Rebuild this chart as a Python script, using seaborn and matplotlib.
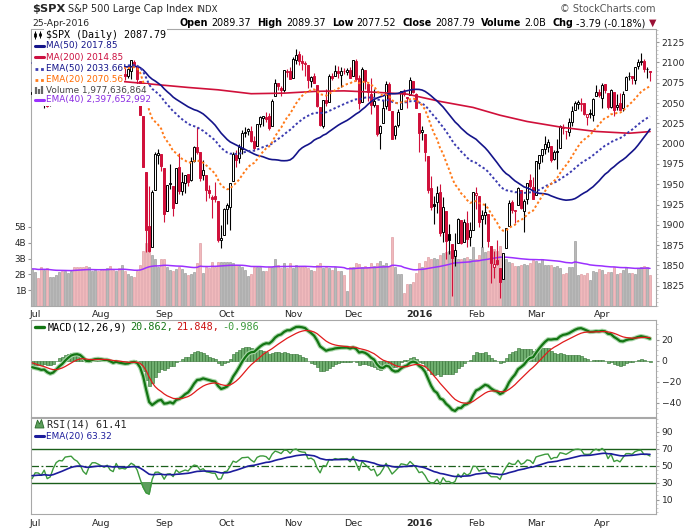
import numpy as np
import pandas as pd
import matplotlib
matplotlib.use("Agg")
import matplotlib.pyplot as plt
from matplotlib.lines import Line2D
from matplotlib.patches import Rectangle, Polygon
from matplotlib.ticker import MultipleLocator
import seaborn as sns

# June 2015 closes, only used to warm up the moving averages / MACD / RSI
hist_closes = [2111.73, 2109.60, 2114.07, 2095.84, 2092.83, 2079.28, 2080.15, 2105.20,
               2108.86, 2094.11, 2084.43, 2096.29, 2100.44, 2121.24, 2109.99, 2122.85,
               2124.20, 2108.58, 2102.31, 2101.49, 2057.64]

holidays = ['2015-07-03', '2015-09-07', '2015-11-26', '2015-12-25', '2016-01-01',
            '2016-01-18', '2016-02-15', '2016-03-25']

# daily candles 30-Jun-2015 .. 25-Apr-2016 (one line per month)
opens = [2061.2,
    2067.0, 2078.0, 2073.0, 2069.5, 2077.7, 2049.7, 2052.7, 2080.0, 2099.7, 2109.0, 2110.5, 2126.8, 2126.9, 2127.6, 2118.2, 2114.2, 2102.2, 2078.2, 2070.8, 2094.7, 2106.8, 2111.6,
    2104.5, 2097.7, 2095.3, 2100.1, 2082.6, 2080.1, 2102.7, 2081.1, 2086.2, 2083.2, 2089.7, 2101.1, 2095.7, 2076.6, 2034.1, 1965.2, 1898.1, 1872.8, 1942.8, 1986.1, 1986.7,
    1970.1, 1916.5, 1950.8, 1947.8, 1927.3, 1971.5, 1941.6, 1951.5, 1963.1, 1955.1, 1978.0, 1995.3, 1989.7, 1960.8, 1961.4, 1943.2, 1934.8, 1935.9, 1929.2, 1881.9, 1887.1,
    1919.7, 1921.8, 1954.3, 1986.6, 1982.3, 1994.0, 2013.7, 2015.7, 2015.0, 2003.7, 1996.5, 2024.4, 2031.7, 2033.1, 2033.5, 2021.9, 2058.2, 2075.1, 2068.8, 2066.5, 2088.4, 2090.0,
    2080.8, 2102.6, 2110.6, 2101.7, 2098.6, 2096.6, 2077.2, 2083.4, 2072.3, 2044.6, 2022.1, 2053.7, 2051.0, 2083.7, 2082.8, 2089.4, 2084.4, 2089.3, 2088.8, 2090.9,
    2082.9, 2101.7, 2080.7, 2051.2, 2090.4, 2073.4, 2061.2, 2047.9, 2047.3, 2013.4, 2025.6, 2046.5, 2073.8, 2040.8, 2010.3, 2023.2, 2042.2, 2063.5, 2057.8, 2060.5, 2077.3, 2060.6,
    2038.2, 2013.8, 2011.7, 1985.3, 1945.2, 1926.1, 1927.8, 1940.3, 1891.7, 1916.7, 1888.7, 1876.2, 1861.5, 1877.4, 1906.3, 1878.8, 1902.5, 1885.2, 1894.0,
    1936.9, 1935.3, 1907.1, 1911.7, 1913.1, 1873.3, 1848.5, 1857.1, 1847.0, 1833.4, 1871.4, 1898.8, 1927.6, 1916.7, 1924.4, 1942.4, 1917.6, 1931.9, 1954.9, 1947.1,
    1937.1, 1976.6, 1985.6, 1994.0, 1996.1, 1996.9, 1981.4, 1991.0, 1994.7, 2019.3, 2015.3, 2014.2, 2026.9, 2041.2, 2048.6, 2048.6, 2049.8, 2032.5, 2037.9, 2035.8, 2058.3, 2063.8,
    2056.6, 2073.2, 2062.5, 2045.6, 2063.0, 2045.5, 2050.2, 2043.7, 2065.9, 2082.9, 2083.0, 2078.8, 2096.1, 2101.0, 2102.1, 2091.5, 2089.4]
highs = [2074.3,
    2082.8, 2085.1, 2078.6, 2083.7, 2077.7, 2074.3, 2081.3, 2100.7, 2111.4, 2114.1, 2124.4, 2128.9, 2132.8, 2128.5, 2119.4, 2116.9, 2106.0, 2078.2, 2095.6, 2110.6, 2110.5, 2114.2,
    2105.7, 2102.5, 2112.7, 2103.3, 2082.6, 2105.4, 2102.7, 2089.1, 2092.9, 2092.5, 2102.9, 2103.5, 2096.2, 2076.6, 2034.1, 1965.2, 1948.0, 1943.1, 1989.6, 1993.5, 1986.7,
    1970.1, 1948.9, 1975.0, 1947.8, 1970.4, 1988.6, 1965.3, 1961.1, 1963.1, 1983.2, 1997.3, 2020.9, 1989.7, 1979.6, 1961.4, 1949.5, 1937.2, 1952.9, 1929.2, 1899.5, 1920.5,
    1927.2, 1951.4, 1989.2, 1991.6, 1999.3, 2016.5, 2020.1, 2018.7, 2022.3, 2009.6, 2024.2, 2033.5, 2034.5, 2039.1, 2037.9, 2055.2, 2079.7, 2075.1, 2070.4, 2090.4, 2092.5, 2094.3,
    2106.2, 2116.5, 2114.6, 2108.8, 2101.9, 2096.6, 2083.7, 2086.9, 2072.3, 2044.6, 2053.2, 2066.7, 2085.3, 2086.7, 2097.1, 2095.6, 2094.1, 2093.0, 2093.3, 2093.8,
    2103.4, 2104.3, 2085.0, 2093.8, 2090.4, 2073.9, 2080.3, 2067.7, 2047.3, 2022.9, 2053.9, 2076.7, 2076.4, 2040.8, 2022.9, 2042.7, 2064.7, 2067.4, 2057.8, 2081.6, 2077.3, 2062.5,
    2038.2, 2021.9, 2011.7, 1985.3, 1960.4, 1935.7, 1947.4, 1950.3, 1934.5, 1916.7, 1901.4, 1876.2, 1889.9, 1908.9, 1906.3, 1906.7, 1916.9, 1902.9, 1940.2,
    1947.2, 1935.3, 1918.0, 1927.4, 1913.1, 1873.3, 1868.3, 1881.6, 1847.0, 1864.8, 1895.8, 1930.7, 1930.0, 1918.8, 1946.7, 1942.4, 1932.1, 1951.8, 1962.9, 1958.3,
    1978.4, 1986.5, 1993.7, 2009.1, 2006.1, 1996.9, 1992.7, 2005.1, 2022.4, 2024.6, 2015.9, 2032.0, 2046.2, 2052.4, 2053.9, 2056.6, 2049.8, 2036.0, 2042.7, 2055.9, 2072.2, 2067.9,
    2075.1, 2074.0, 2062.5, 2067.3, 2063.0, 2060.6, 2062.9, 2065.1, 2083.2, 2087.8, 2083.2, 2094.7, 2104.4, 2111.1, 2103.8, 2094.3, 2089.4]
lows = [2056.3,
    2067.0, 2071.0, 2058.4, 2044.0, 2044.7, 2046.7, 2052.7, 2080.0, 2099.7, 2102.5, 2110.5, 2119.9, 2123.7, 2115.4, 2110.2, 2098.6, 2077.1, 2063.5, 2069.1, 2094.1, 2094.1, 2102.1,
    2087.3, 2085.4, 2095.3, 2075.5, 2067.9, 2080.1, 2076.5, 2052.1, 2078.3, 2080.6, 2079.3, 2094.1, 2070.5, 2035.7, 1970.9, 1867.0, 1867.1, 1872.8, 1942.8, 1975.2, 1966.0,
    1903.1, 1916.5, 1944.7, 1911.2, 1927.3, 1937.9, 1937.2, 1939.2, 1948.3, 1954.3, 1977.9, 1986.7, 1953.5, 1955.8, 1929.2, 1932.6, 1908.9, 1928.0, 1879.2, 1871.9, 1887.1,
    1900.7, 1893.7, 1954.3, 1971.2, 1976.4, 1987.5, 2007.6, 2010.3, 2001.8, 1990.7, 1996.5, 2020.5, 2022.3, 2026.6, 2017.2, 2021.9, 2058.2, 2066.5, 2059.0, 2063.1, 2082.6, 2079.3,
    2080.8, 2097.5, 2096.9, 2090.4, 2083.7, 2068.2, 2069.9, 2074.9, 2045.7, 2022.0, 2019.4, 2045.9, 2051.0, 2078.8, 2082.8, 2081.4, 2070.3, 2086.3, 2084.1, 2080.4,
    2082.9, 2077.1, 2042.4, 2051.2, 2066.8, 2052.3, 2036.5, 2045.7, 2008.8, 1993.3, 2025.6, 2042.4, 2041.7, 2005.3, 2005.9, 2020.5, 2042.2, 2058.7, 2044.2, 2060.5, 2061.9, 2043.6,
    1989.7, 2005.0, 1979.1, 1938.8, 1918.5, 1901.1, 1914.4, 1886.5, 1878.9, 1857.8, 1864.6, 1812.3, 1848.9, 1877.4, 1875.9, 1878.8, 1872.7, 1873.7, 1894.0,
    1920.0, 1897.3, 1872.7, 1900.5, 1872.7, 1828.5, 1834.9, 1850.3, 1810.1, 1833.4, 1871.4, 1898.8, 1915.1, 1902.2, 1924.4, 1919.4, 1891.0, 1925.4, 1945.8, 1931.8,
    1937.1, 1968.8, 1977.4, 1986.8, 1989.4, 1977.4, 1979.8, 1969.2, 1994.7, 2012.1, 2005.2, 2010.0, 2022.2, 2041.2, 2043.1, 2040.6, 2034.9, 2022.5, 2031.9, 2028.3, 2058.3, 2057.5,
    2043.9, 2062.6, 2042.6, 2043.8, 2033.8, 2041.7, 2041.9, 2039.7, 2065.9, 2078.1, 2073.7, 2073.3, 2091.7, 2096.3, 2088.5, 2081.2, 2077.5]
closes = [2063.11,
    2077.42, 2076.78, 2068.76, 2081.34, 2046.68, 2051.31, 2076.62, 2099.60, 2108.95, 2107.40, 2124.29, 2126.64, 2128.28, 2119.21, 2114.15, 2102.15, 2079.65, 2067.64, 2093.25, 2108.57, 2108.63, 2103.84,
    2098.04, 2093.32, 2099.84, 2083.56, 2077.57, 2104.18, 2084.07, 2086.05, 2083.39, 2091.54, 2102.44, 2096.92, 2079.61, 2035.73, 1970.89, 1893.21, 1867.61, 1940.51, 1987.66, 1988.87, 1972.18,
    1913.85, 1948.86, 1951.13, 1921.22, 1969.41, 1942.04, 1952.29, 1961.05, 1953.03, 1978.09, 1995.31, 1990.20, 1958.03, 1966.97, 1942.74, 1938.76, 1932.24, 1931.34, 1881.77, 1884.09, 1920.03,
    1923.82, 1951.36, 1987.05, 1979.92, 1995.83, 2013.43, 2014.89, 2017.46, 2003.69, 1994.24, 2023.86, 2033.11, 2033.66, 2030.77, 2018.94, 2052.51, 2075.15, 2071.18, 2065.89, 2090.35, 2089.41, 2079.36,
    2104.05, 2109.79, 2102.31, 2099.93, 2099.20, 2078.58, 2081.72, 2075.00, 2045.97, 2023.04, 2053.19, 2050.44, 2083.58, 2081.24, 2089.17, 2086.59, 2089.14, 2088.87, 2090.11, 2080.41,
    2102.63, 2079.51, 2049.62, 2091.69, 2077.07, 2063.59, 2047.62, 2052.23, 2012.37, 2021.94, 2043.41, 2073.07, 2041.89, 2005.55, 2021.15, 2038.97, 2064.29, 2060.99, 2056.50, 2078.36, 2063.36, 2043.94,
    2012.66, 2016.71, 1990.26, 1943.09, 1922.03, 1923.67, 1938.68, 1890.28, 1921.84, 1880.33, 1881.33, 1859.33, 1868.99, 1906.90, 1877.08, 1903.63, 1882.95, 1893.36, 1940.24,
    1939.38, 1903.03, 1912.53, 1915.45, 1880.05, 1853.44, 1852.21, 1851.86, 1829.08, 1864.78, 1895.58, 1926.82, 1917.83, 1917.78, 1945.50, 1921.27, 1929.80, 1951.70, 1948.05, 1932.23,
    1978.35, 1986.45, 1993.40, 1999.99, 2001.76, 1979.26, 1989.26, 1989.57, 2022.19, 2019.64, 2015.93, 2027.22, 2040.59, 2049.58, 2051.60, 2049.80, 2036.71, 2035.94, 2037.05, 2055.01, 2063.95, 2059.74,
    2072.78, 2066.13, 2045.17, 2066.66, 2041.91, 2047.60, 2041.99, 2061.72, 2082.42, 2082.78, 2080.73, 2094.34, 2100.80, 2102.40, 2091.48, 2091.58, 2087.79]
# volume, billions of shares
volumes = [2.35,
    2.17, 1.75, 2.50, 2.25, 2.40, 1.85, 1.85, 1.95, 2.15, 2.20, 2.20, 2.10, 2.20, 2.50, 2.50, 2.50, 2.50, 2.55, 2.45, 2.20, 2.25, 2.20,
    2.30, 2.35, 2.40, 2.55, 2.30, 2.20, 2.40, 2.60, 2.20, 2.00, 1.90, 1.85, 2.20, 2.60, 3.50, 4.00, 3.70, 3.25, 2.95, 2.50, 2.95,
    2.95, 2.50, 2.25, 2.20, 2.35, 2.45, 2.35, 2.10, 1.95, 2.00, 2.15, 2.70, 4.00, 2.10, 2.50, 2.40, 2.80, 2.50, 2.80, 2.80, 2.80,
    2.80, 2.80, 2.70, 2.60, 2.55, 2.50, 2.25, 1.90, 2.00, 2.45, 2.50, 2.45, 2.20, 2.20, 2.50, 2.50, 2.95, 2.60, 2.40, 2.70, 2.40, 2.70,
    2.40, 2.60, 2.50, 2.55, 2.50, 2.40, 2.30, 2.20, 2.60, 2.70, 2.40, 2.50, 2.40, 2.30, 2.45, 2.20, 2.20, 1.95, 0.95, 2.50,
    2.45, 2.75, 2.65, 2.50, 2.55, 2.50, 2.70, 2.55, 2.70, 2.85, 2.60, 2.70, 2.55, 4.35, 2.50, 2.05, 2.00, 0.80, 1.40, 1.40, 1.50, 2.10,
    2.75, 2.50, 2.85, 3.10, 3.00, 3.05, 3.00, 3.20, 3.35, 3.40, 3.45, 3.85, 3.40, 3.00, 3.00, 3.05, 3.10, 3.00, 3.75,
    3.00, 3.20, 3.75, 3.40, 3.50, 3.80, 3.60, 3.50, 3.80, 3.20, 3.00, 2.80, 2.70, 2.55, 2.55, 2.60, 2.65, 2.60, 2.70, 2.90,
    2.85, 2.75, 3.00, 2.60, 2.60, 2.60, 2.45, 2.55, 2.40, 2.00, 2.10, 2.45, 2.45, 4.10, 1.95, 2.05, 1.95, 2.10, 1.65, 2.20, 2.15, 2.35,
    2.25, 2.00, 2.15, 2.15, 2.45, 2.05, 2.10, 2.30, 2.45, 2.10, 2.10, 2.05, 2.40, 2.50, 2.55, 2.50, 1.98]

# 200-day MA (needs history the chart does not show)
ma200_dates = ['2015-07-01', '2015-08-12', '2015-09-14', '2015-09-28', '2015-10-13', '2015-10-28',
               '2015-11-12', '2015-11-25', '2015-12-10', '2015-12-28', '2016-01-13', '2016-01-29',
               '2016-02-11', '2016-02-25', '2016-03-14', '2016-03-30', '2016-04-14', '2016-04-25']
ma200_vals = [2078.0, 2076.6, 2069.2, 2066.3, 2061.5, 2062.2, 2064.5, 2065.0, 2063.4, 2061.0,
              2052.0, 2044.6, 2035.0, 2027.3, 2019.9, 2015.0, 2012.8, 2014.85]

# ---------------------------------------------------------------------------
days = pd.bdate_range('2015-06-30', '2016-04-25')
days = days[~days.isin(pd.to_datetime(holidays))]
n = len(days)
assert n == len(opens) == len(highs) == len(lows) == len(closes) == len(volumes)
x = np.arange(n)

o = np.array(opens); h = np.array(highs); l = np.array(lows); c = np.array(closes)
vol = np.array(volumes) * 1e9

allc = pd.Series(hist_closes + closes)
nh = len(hist_closes)
ma50 = allc.rolling(50, min_periods=1).mean().values[nh:]
ema50 = allc.ewm(span=50, adjust=False).mean().values[nh:]
ema20 = allc.ewm(span=20, adjust=False).mean().values[nh:]
macd_full = allc.ewm(span=12, adjust=False).mean() - allc.ewm(span=26, adjust=False).mean()
sig_full = macd_full.ewm(span=9, adjust=False).mean()
macd = macd_full.values[nh:]
signal = sig_full.values[nh:]
hist = macd - signal
d = allc.diff().fillna(0)
ag = d.clip(lower=0).ewm(alpha=1 / 14, adjust=False).mean()
al = (-d.clip(upper=0)).ewm(alpha=1 / 14, adjust=False).mean()
rsi_full = 100 - 100 / (1 + ag / al)
rsi = rsi_full.values[nh:]
rsi_ema = rsi_full.ewm(span=20, adjust=False).mean().values[nh:]
vol_ema = pd.Series(vol).ewm(span=40, adjust=False).mean().values

prev = np.r_[hist_closes[-1], c[:-1]]
is_up = c >= prev
RED = '#d0103a'
cand_col = np.where(is_up, 'black', RED).tolist()
cand_face = np.where(c < o, np.where(is_up, 'black', RED), 'white').tolist()
vface = np.where(is_up, '#b9b9b9', '#f0b9bc').tolist()
vedge = np.where(is_up, '#8e8e8e', '#d98f96').tolist()

mon = days.to_period('M')
first = np.r_[False, np.asarray(mon[1:] != mon[:-1])]
month_pos = x[first]
month_lab = ['2016' if dd.month == 1 else dd.strftime('%b') for dd in days[first]]
ma200_x = days.get_indexer(pd.to_datetime(ma200_dates))

# ---------------------------------------------------------------------------
sns.set_style("white")
plt.rcParams['font.family'] = ['DejaVu Sans']
plt.rcParams['text.parse_math'] = False

W, H = 700, 530
fig = plt.figure(figsize=(7, 5.3), dpi=100)


def box(left, top, right, bottom):
    return [left / W, 1 - bottom / H, (right - left) / W, (bottom - top) / H]


def fx(px):
    return px / W


def fy(py):
    return 1 - py / H


ax = fig.add_axes(box(31, 29.5, 656, 306))
ax_v = ax.twinx()
ax_m = fig.add_axes(box(31, 320, 656, 416.5))
ax_r = fig.add_axes(box(31, 417.5, 656, 514))
XL = (-0.4, 208)

# volume (behind the candles)
ax_v.bar(x, vol, width=0.8, color=vface, edgecolor=vedge, linewidth=0.4)
sns.lineplot(x=x, y=vol_ema, ax=ax_v, color='#9b30ff', linewidth=1.1)
ax_v.set_ylim(0, 17.5e9)
ax_v.yaxis.set_ticks_position('left')
ax_v.set_yticks([1e9, 2e9, 3e9, 4e9, 5e9])
ax_v.set_yticklabels(['1B', '2B', '3B', '4B', '5B'])
ax_v.tick_params(axis='y', labelsize=6.3, length=2, pad=1.5, color='#999999')
ax_v.set_ylabel('')
for s in ax_v.spines.values():
    s.set_visible(False)
ax.set_zorder(ax_v.get_zorder() + 1)
ax.patch.set_visible(False)

# candles
ax.vlines(x, l, h, colors=cand_col, linewidth=0.8, zorder=3)
ax.bar(x, np.maximum(np.abs(c - o), 0.8), bottom=np.minimum(o, c), width=0.62,
       color=cand_face, edgecolor=cand_col, linewidth=0.7, zorder=4)

sns.lineplot(x=ma200_x, y=ma200_vals, ax=ax, color='#d0103a', linewidth=1.2, zorder=5)
sns.lineplot(x=x, y=ma50, ax=ax, color='#14148a', linewidth=1.2, zorder=5)
sns.lineplot(x=x, y=ema50, ax=ax, color='#3b3bb0', linewidth=1.4, linestyle=(0, (1.2, 1.2)), zorder=5)
sns.lineplot(x=x, y=ema20, ax=ax, color='#ff7a1a', linewidth=1.4, linestyle=(0, (1.2, 1.2)), zorder=5)

ax.set_xlim(*XL)
ax.set_ylim(1800, 2140.6)
ax.yaxis.tick_right()
ax.set_yticks(np.arange(1825, 2126, 25))
ax.tick_params(axis='y', labelsize=6.6, length=2, pad=2, color='#999999')
ax.set_xticks(month_pos)
ax.set_xticklabels(month_lab)
ax.tick_params(axis='x', labelsize=6.8, length=2.5, pad=0.6, color='#999999')

# MACD
ax_m.bar(x, hist, width=1.0, color='#6fae6f', edgecolor='#2f6f2f', linewidth=0.4, zorder=2)
sns.lineplot(x=x, y=macd, ax=ax_m, color='#a9d6a9', linewidth=3.2, zorder=3)
sns.lineplot(x=x, y=macd, ax=ax_m, color='#137513', linewidth=1.6, zorder=4)
sns.lineplot(x=x, y=signal, ax=ax_m, color='#e01b1b', linewidth=0.9, zorder=5)
ax_m.set_xlim(*XL)
ax_m.set_ylim(-52.9, 38.6)
ax_m.yaxis.tick_right()
ax_m.set_yticks([-40, -20, 0, 20])
ax_m.tick_params(axis='y', labelsize=6.6, length=2, pad=2, color='#999999')
ax_m.set_xticks(month_pos)
ax_m.tick_params(axis='x', labelbottom=False, length=2, color='#999999')

# RSI
ax_r.axhline(70, color='#1a5e1a', linewidth=1.0, zorder=2)
ax_r.axhline(30, color='#1a5e1a', linewidth=1.0, zorder=2)
ax_r.axhline(50, color='#1a5e1a', linewidth=0.9, linestyle=(0, (6, 2, 1.5, 2)), zorder=2)
ax_r.fill_between(x, rsi, 30, where=rsi < 30, interpolate=True, color='#5c9e5c', zorder=3)
ax_r.fill_between(x, rsi, 70, where=rsi > 70, interpolate=True, color='#5c9e5c', zorder=3)
sns.lineplot(x=x, y=rsi, ax=ax_r, color='#3c9a3c', linewidth=1.0, zorder=4)
sns.lineplot(x=x, y=rsi_ema, ax=ax_r, color='#1c1c9c', linewidth=1.2, zorder=5)
ax_r.set_xlim(*XL)
ax_r.set_ylim(-6.8, 106.7)
ax_r.yaxis.tick_right()
ax_r.set_yticks([10, 30, 50, 70, 90])
ax_r.tick_params(axis='y', labelsize=6.6, length=2, pad=2, color='#999999')
ax_r.set_xticks(month_pos)
ax_r.set_xticklabels(month_lab)
ax_r.tick_params(axis='x', labelsize=6.8, length=2.5, pad=1.0, color='#999999')

for a in (ax, ax_m, ax_r):
    a.set_xlabel(''); a.set_ylabel('')
    for s in a.spines.values():
        s.set_color('#a8a8a8'); s.set_linewidth(0.8)
    for t in a.get_xticklabels():
        if t.get_text() == '2016':
            t.set_fontweight('bold')
    a.xaxis.set_minor_locator(MultipleLocator(1))
    a.tick_params(axis='x', which='minor', length=1.2, width=0.5, color='#bbbbbb')
    a.yaxis.set_minor_locator(MultipleLocator(5))
    a.tick_params(axis='y', which='minor', length=1.2, width=0.5, color='#bbbbbb')

# ---------------------------------------------------------------------------
renderer = fig.canvas.get_renderer()
MONO = 'DejaVu Sans Mono'


def text_row(parts, x_left, y, size, x_right=None, family='DejaVu Sans'):
    """parts: (text, color, weight, spaces_before)"""
    objs, gaps = [], []
    for s, col, wt, sp in parts:
        objs.append(fig.text(0, fy(y), s, fontsize=size, color=col, fontweight=wt,
                             va='center', ha='left', family=family, zorder=8))
        gaps.append(sp)
    widths = [t.get_window_extent(renderer).width for t in objs]
    space = 0.32 * size * 100 / 72
    total = sum(widths) + space * sum(gaps)
    scale = 1.0
    if x_right is not None:
        scale = (x_right - x_left) / total
        for t in objs:
            t.set_fontsize(size * scale)
    xx = x_left
    for t, w, g in zip(objs, widths, gaps):
        xx += g * space * scale
        t.set_x(fx(xx))
        xx += w * scale
    return objs


# header
fig.text(fx(32), fy(9), '$SPX', fontsize=8.2, fontweight='bold', va='center')
fig.text(fx(68), fy(9.5), 'S&P 500 Large Cap Index', fontsize=7.1, va='center')
fig.text(fx(196), fy(10), 'INDX', fontsize=6.2, va='center')
fig.text(fx(656), fy(9), '\u00a9 StockCharts.com', fontsize=7.0, color='#555555',
         ha='right', va='center')
fig.text(fx(32), fy(23), '25-Apr-2016', fontsize=6.7, va='center')
B, N = 'bold', 'normal'
text_row([('Open', 'black', B, 0), ('2089.37', 'black', N, 1), ('High', 'black', B, 2),
          ('2089.37', 'black', N, 1), ('Low', 'black', B, 2), ('2077.52', 'black', N, 1),
          ('Close', 'black', B, 2), ('2087.79', 'black', N, 1), ('Volume', 'black', B, 2),
          ('2.0B', 'black', N, 1), ('Chg', 'black', B, 2), ('-3.79 (-0.18%)', 'black', N, 1),
          ('\u25bc', '#9a1136', N, 1)], 180, 23, 7.0, x_right=656)

# price panel legend (white background hides the candles underneath)
fig.add_artist(Rectangle((fx(31.6), fy(104.5)), fx(46) - fx(31.6), fy(29.8) - fy(104.5),
                         transform=fig.transFigure, facecolor='white', edgecolor='none', zorder=6))
WB = dict(boxstyle='square,pad=0.18', facecolor='white', edgecolor='none')
legend_rows = [
    ('$SPX (Daily) 2087.79', 'black', 34.5, MONO, 7.2),
    ('MA(50) 2017.85', '#14148a', 45.8, 'DejaVu Sans', 6.4),
    ('MA(200) 2014.85', '#cc1040', 57.2, 'DejaVu Sans', 6.4),
    ('EMA(50) 2033.66', '#14148a', 68.6, 'DejaVu Sans', 6.4),
    ('EMA(20) 2070.56', '#ff6a00', 79.9, 'DejaVu Sans', 6.4),
    ('Volume 1,977,636,864', '#444444', 90.0, 'DejaVu Sans', 6.4),
    ('EMA(40) 2,397,652,992', '#8a2be2', 99.8, 'DejaVu Sans', 6.4),
]
for s, col, yy, fam, fs in legend_rows:
    fig.text(fx(45.5), fy(yy), s, color=col, fontsize=fs, family=fam, va='center',
             ha='left', bbox=WB, zorder=7)


def icon_line(x0, x1, y, col, lw=2.2, ls='-'):
    fig.add_artist(Line2D([fx(x0), fx(x1)], [fy(y), fy(y)], transform=fig.transFigure,
                          color=col, linewidth=lw, linestyle=ls, zorder=9))


def icon_vbar(xx, y0, y1, col, lw=1.6):
    fig.add_artist(Line2D([fx(xx), fx(xx)], [fy(y0), fy(y1)], transform=fig.transFigure,
                          color=col, linewidth=lw, zorder=9, solid_capstyle='butt'))


# candle icon
icon_vbar(35, 30.5, 38.5, 'black', 0.7); icon_vbar(35, 32.5, 36.5, 'black', 2.0)
icon_vbar(40, 31.0, 38.0, 'black', 0.7); icon_vbar(40, 33.0, 36.0, 'black', 2.0)
icon_line(35, 44, 45.8, '#14148a')
icon_line(35, 44, 57.2, '#cc1040')
icon_line(35, 44, 68.6, '#3b3bb0', 2.0, (0, (1, 1)))
icon_line(35, 44, 79.9, '#ff7a1a', 2.0, (0, (1, 1)))
icon_vbar(35.5, 87, 94, '#666666'); icon_vbar(38.5, 89, 94, '#666666'); icon_vbar(41.5, 86, 94, '#666666')
icon_line(35, 44, 99.8, '#9b30ff')

# MACD legend
icon_line(35, 44, 327, '#137513', 2.4)
text_row([('MACD(12,26,9)', 'black', N, 0), ('20.862,', '#137513', N, 1),
          ('21.848,', '#cc1111', N, 1), ('-0.986', '#3c9a3c', N, 1)], 47.5, 327, 7.3, family=MONO)

# RSI legend
fig.add_artist(Polygon([(fx(35), fy(428)), (fx(37.5), fy(420)), (fx(39.5), fy(424)),
                        (fx(41.5), fy(419.5)), (fx(44), fy(428))], closed=True,
                       transform=fig.transFigure, facecolor='#5c9e5c', edgecolor='#2a6a2a',
                       linewidth=0.6, zorder=9))
fig.text(fx(47.5), fy(424.5), 'RSI(14) 61.41', fontsize=7.3, family=MONO, va='center', zorder=8)
icon_line(35, 44, 436, '#1c1c9c')
fig.text(fx(45.5), fy(436), 'EMA(20) 63.32', fontsize=6.4, color='#1c1c9c', va='center', zorder=8)

fig.savefig('out.png', dpi=100)
